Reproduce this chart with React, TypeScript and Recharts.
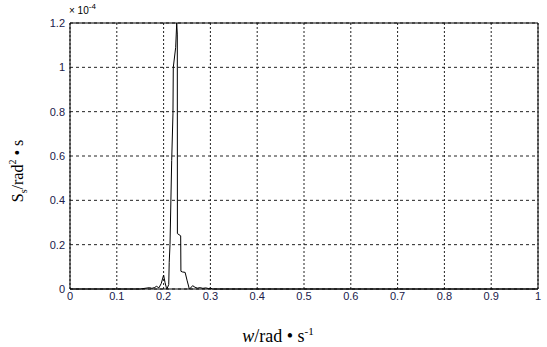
import React from 'react';
import { LineChart, Line, XAxis, YAxis, CartesianGrid, ReferenceLine } from 'recharts';

// frequency w (rad/s)
const freq = [
  0, 0.15, 0.16, 0.17, 0.175, 0.18, 0.185, 0.19, 0.195, 0.2, 0.203, 0.206, 0.207,
  0.211, 0.212, 0.2137, 0.2173, 0.22, 0.2207, 0.2258, 0.228, 0.2293, 0.2295,
  0.2365, 0.237, 0.24, 0.246, 0.25, 0.255, 0.258, 0.262, 0.267, 0.272, 0.278,
  0.284, 0.29, 0.296, 0.3, 0.305, 1,
];
// spectrum S_s (x 1e-4)
const spectrum = [
  0, 0, 0.003, 0.006, 0.003, 0.006, 0.012, 0.005, 0.025, 0.063, 0.03, 0.005, 0,
  0.02, 0.12, 0.2, 0.58, 0.79, 1.0, 1.09, 1.2, 1.15, 0.25,
  0.24, 0.08, 0.077, 0.075, 0.04, 0, 0.005, 0.015, 0.008, 0.004, 0.006,
  0.003, 0.005, 0.002, 0.004, 0, 0,
];
const xTicks = [0, 0.1, 0.2, 0.3, 0.4, 0.5, 0.6, 0.7, 0.8, 0.9, 1];
const yTicks = [0, 0.2, 0.4, 0.6, 0.8, 1, 1.2];

const data = freq.map((w, i) => ({ w, s: spectrum[i] }));

const tickStyle = { fontFamily: 'Liberation Sans, Arial, sans-serif', fontSize: 11, fill: '#20204a' };

export default function App() {
  return (
    <div style={{ position: 'absolute', left: 0, top: 0, width: 547, height: 347, background: '#fff' }}>
      <LineChart width={547} height={347} data={data} margin={{ top: 23, right: 9, bottom: 0, left: 0 }}>
        <CartesianGrid horizontal={false} vertical={true} stroke="#222" strokeDasharray="2 2" />
        <CartesianGrid horizontal={true} vertical={false} stroke="#222" strokeDasharray="3 3" />
        <XAxis
          dataKey="w"
          type="number"
          domain={[0, 1]}
          ticks={xTicks}
          height={58}
          tickSize={0}
          tickMargin={3}
          tickLine={false}
          axisLine={{ stroke: '#000' }}
          tick={tickStyle}
          interval={0}
        />
        <YAxis
          type="number"
          domain={[0, 1.2]}
          ticks={yTicks}
          width={70}
          tickSize={0}
          tickMargin={5}
          tickLine={false}
          axisLine={{ stroke: '#000' }}
          tick={tickStyle}
          interval={0}
          tickFormatter={(v: number) => String(v)}
        />
        <ReferenceLine y={1.2} stroke="#000" />
        <ReferenceLine x={1} stroke="#000" />
        <Line type="linear" dataKey="s" stroke="#000" strokeWidth={1} dot={false} isAnimationActive={false} />
      </LineChart>
      <div style={{ position: 'absolute', left: 69, top: 5, fontFamily: 'Liberation Sans, Arial, sans-serif', fontSize: 10, color: '#000', whiteSpace: 'nowrap' }}>
        × 10<sup style={{ fontSize: 8, verticalAlign: 'top', position: 'relative', top: -3 }}>-4</sup>
      </div>
      <div
        style={{
          position: 'absolute',
          left: 18,
          top: 171,
          transform: 'translate(-50%, -50%) rotate(-90deg)',
          fontFamily: 'Liberation Serif, Times New Roman, serif',
          fontSize: 16,
          whiteSpace: 'nowrap',
          color: '#000',
        }}
      >
        S<sub style={{ fontSize: 10 }}>s</sub>/rad<sup style={{ fontSize: 10 }}>2</sup> • s
      </div>
      <div
        style={{
          position: 'absolute',
          left: 278,
          top: 321,
          transform: 'translateX(-50%)',
          fontFamily: 'Liberation Serif, Times New Roman, serif',
          fontSize: 18,
          whiteSpace: 'nowrap',
          color: '#000',
          lineHeight: '20px',
        }}
      >
        <i>w</i>/rad • s<sup style={{ fontSize: 11 }}>-1</sup>
      </div>
    </div>
  );
}
